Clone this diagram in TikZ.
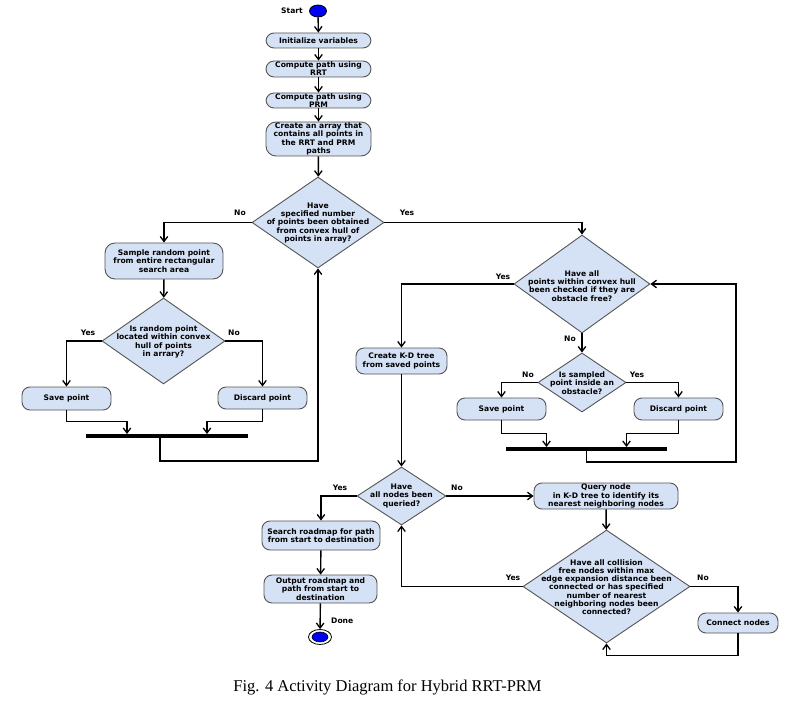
\documentclass[tikz,border=0pt]{standalone}
\usepackage{fontspec}
\setmainfont{DejaVu Sans}
\newfontfamily\capfont{Liberation Serif}
\usetikzlibrary{shapes.geometric,arrows.meta}
\definecolor{boxblue}{RGB}{213,225,245}
\definecolor{edgegray}{RGB}{85,85,85}
\definecolor{startblue}{RGB}{0,0,245}
\tikzset{
  txt/.style={font=\fontsize{7.6}{8.2}\selectfont\bfseries, align=center, inner sep=0pt},
  act/.style={txt, draw=edgegray, fill=boxblue, line width=0.9pt, rounded corners=8pt},
  dec/.style={diamond, draw=edgegray, fill=boxblue, line width=0.9pt, inner sep=0pt},
  arr/.style={line width=1.4pt, -{Straight Barb[length=5pt,width=7.5pt,line width=1.3pt]}},
  ln/.style={line width=1.4pt},
  barnode/.style={fill=black, inner sep=0pt, minimum height=3.5pt},
  lab/.style={font=\fontsize{7.6}{8.2}\selectfont\bfseries, inner sep=0pt}
}
\begin{document}
\begin{tikzpicture}[x=1pt,y=-1pt]
\useasboundingbox (0,0) rectangle (811,703);
% start
\node[ellipse, draw=black, fill=startblue, line width=0.8pt, minimum width=17pt, minimum height=12pt, inner sep=0pt] (start) at (318,11) {};
\node[lab, anchor=east] (startlab) at (303,11) {Start};
% main column
\node[act, minimum width=105pt, minimum height=15pt] (init) at (318.5,40.5) {Initialize variables};
\node[act, minimum width=105pt, minimum height=16pt] (rrt) at (318.5,69) {Compute path using\\RRT};
\node[act, minimum width=105pt, minimum height=15pt] (prm) at (318.5,100.5) {Compute path using\\PRM};
\node[act, minimum width=105pt, minimum height=34pt, rounded corners=10pt] (arr) at (318.5,139) {Create an array that\\contains all points in\\the RRT and PRM\\paths};
\node[dec, minimum width=132pt, minimum height=91pt] (d1) at (318,222.5) {};
\node[txt] (d1t) at (318,223) {Have\\specified number\\of points been obtained\\from convex hull of\\points in array?};
% left branch
\node[act, minimum width=118pt, minimum height=36pt, rounded corners=10pt] (sample) at (164,261) {Sample random point\\from entire rectangular\\search area};
\node[dec, minimum width=123pt, minimum height=86pt] (d3) at (163.5,341) {};
\node[txt] (d3t) at (163.5,342) {Is random point\\located within convex\\hull of points\\in arrary?};
\node[act, minimum width=89pt, minimum height=23pt] (save1) at (66.5,398.5) {Save point};
\node[act, minimum width=89pt, minimum height=22pt] (disc1) at (262.5,398) {Discard point};
\node[barnode, minimum width=162pt] (bar1) at (167,436) {};
% right branch
\node[dec, minimum width=136pt, minimum height=98pt] (d2) at (582,284) {};
\node[txt] (d2t) at (582,286) {Have all\\points within convex hull\\been checked if they are\\obstacle free?};
\node[act, minimum width=91pt, minimum height=26pt] (kd) at (401.5,361) {Create K-D tree\\from saved points};
\node[dec, minimum width=88pt, minimum height=59pt] (d4) at (582,382.5) {};
\node[txt] (d4t) at (582,383) {Is sampled\\point inside an\\obstacle?};
\node[act, minimum width=89pt, minimum height=22pt] (save2) at (501.5,409) {Save point};
\node[act, minimum width=89pt, minimum height=22pt] (disc2) at (678.5,409) {Discard point};
\node[barnode, minimum width=161pt] (bar2) at (586.5,449) {};
\coordinate (r2) at (736,462);
% bottom part
\node[dec, minimum width=89pt, minimum height=58pt] (d5) at (401.5,496) {};
\node[txt] (d5t) at (401.5,496) {Have\\all nodes been\\queried?};
\node[act, minimum width=118pt, minimum height=29pt] (search) at (321,535.5) {Search roadmap for path\\from start to destination};
\node[act, minimum width=113pt, minimum height=28pt] (output) at (320.5,589) {Output roadmap and\\path from start to\\destination};
\node[ellipse, draw=black, fill=white, line width=0.8pt, minimum width=23pt, minimum height=15pt, inner sep=0pt] (done) at (320,637) {};
\node[ellipse, draw=black, fill=startblue, line width=0.6pt, minimum width=16pt, minimum height=10pt, inner sep=0pt] (donein) at (done) {};
\node[lab, anchor=west] (donelab) at (331,621) {Done};
\node[act, minimum width=144pt, minimum height=26pt] (query) at (606,496) {Query node\\in K-D tree to identify its\\nearest neighboring nodes};
\node[dec, minimum width=167pt, minimum height=113pt] (d6) at (606.5,586.5) {};
\node[txt] (d6t) at (606.5,587) {Have all collision\\free nodes within max\\edge expansion distance been\\connected or has specified\\number of nearest\\neighboring nodes been\\connected?};
\node[act, minimum width=80pt, minimum height=20pt] (connect) at (738,623) {Connect nodes};
% caption
\node[font=\capfont\fontsize{16.5}{18}\selectfont, inner sep=0pt] (cap) at (387.5,687) {Fig. 4 Activity Diagram for Hybrid RRT-PRM};
% connectors main
\draw[arr] (start) -- (init);
\draw[arr] (init) -- (rrt);
\draw[arr] (rrt) -- (prm);
\draw[arr] (prm) -- (arr);
\draw[arr] (arr) -- (d1);
\draw[arr] (d1.west) -| (sample.north);
\draw[arr] (d1.east) -| (d2.north);
\node[lab] (l1) at (240,213) {No};
\node[lab] (l2) at (407,213) {Yes};
% left branch
\draw[arr] (sample) -- (d3);
\draw[arr] (d3.west) -| (save1.north);
\draw[arr] (d3.east) -| (disc1.north);
\node[lab] (l3) at (88,333) {Yes};
\node[lab] (l4) at (234,333) {No};
\draw[arr] (save1.south) -- ++(0,11) -| ([xshift=-40pt]bar1.north);
\draw[arr] (disc1.south) -- ++(0,12) -| ([xshift=40pt]bar1.north);
\draw[arr] ([xshift=-7pt]bar1.south) -- ++(0,23) -| (d1.south);
% right branch
\draw[arr] (d2.west) -| (kd.north);
\node[lab] (l5) at (503,277) {Yes};
\draw[arr] (d2.south) -- (d4.north);
\node[lab] (l6) at (570,339) {No};
\draw[arr] (d4.west) -| (save2.north);
\draw[arr] (d4.east) -| (disc2.north);
\node[lab] (l7) at (528,375) {No};
\node[lab] (l8) at (637,375) {Yes};
\draw[arr] (save2.south) -- ++(0,13) -| ([xshift=-40pt]bar2.north);
\draw[arr] (disc2.south) -- ++(0,13) -| ([xshift=40pt]bar2.north);
\draw[arr] (bar2.south) |- (r2) |- (d2.east);
% bottom
\draw[arr] (kd) -- (d5);
\draw[arr] (d5.west) -| (search.north);
\node[lab] (l9) at (340,488) {Yes};
\draw[arr] (d5.east) -- (query.west);
\node[lab] (l10) at (457,488) {No};
\draw[arr] (search) -- (output);
\draw[arr] (output) -- (done);
\draw[arr] (query) -- (d6);
\draw[arr] (d6.west) -| (d5.south);
\node[lab] (l11) at (513,578) {Yes};
\draw[arr] (d6.east) -| (connect.north);
\node[lab] (l12) at (703,578) {No};
\draw[arr] (connect.south) -- ++(0,22) -| (d6.south);
\end{tikzpicture}
\end{document}
